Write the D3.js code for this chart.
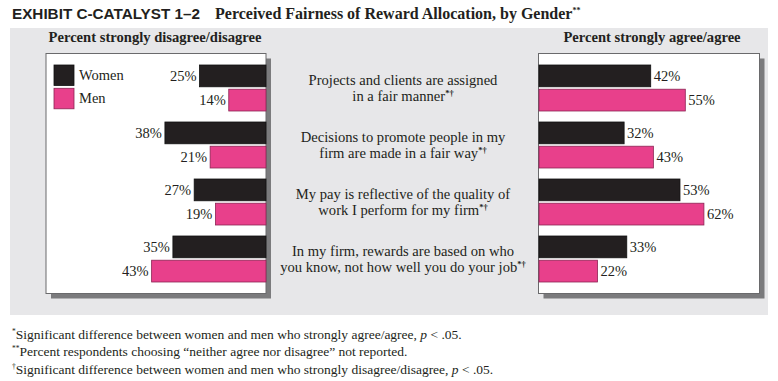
<!DOCTYPE html>
<html>
<head>
<meta charset="utf-8">
<script src="https://cdn.jsdelivr.net/npm/d3@7"></script>
<style>
  body { margin: 0; background: #fff; }
  svg { display: block; }
  .serif { font-family: "Liberation Serif", "Times New Roman", serif; fill: #231f20; }
</style>
</head>
<body>
<div id="chart"></div>
<script>
// data
var categories = ["Projects", "Promote", "Pay", "Rewards"];
var statementLines = [
  ["Projects and clients are assigned", "in a fair manner"],
  ["Decisions to promote people in my", "firm are made in a fair way"],
  ["My pay is reflective of the quality of", "work I perform for my firm"],
  ["In my firm, rewards are based on who", "you know, not how well you do your job"]
];
var genders = ["Women", "Men"];
var disagreeWomen = [25, 38, 27, 35];
var disagreeMen = [14, 21, 19, 43];
var agreeWomen = [42, 32, 53, 33];
var agreeMen = [55, 43, 62, 22];
var footnotes = [
  ["*", "Significant difference between women and men who strongly agree/agree, ", "p", " < .05."],
  ["**", "Percent respondents choosing \u201cneither agree nor disagree\u201d not reported.", "", ""],
  ["\u2020", "Significant difference between women and men who strongly disagree/disagree, ", "p", " < .05."]
];

var colors = { Women: "#231f20", Men: "#e8408b" };
var strokes = { Women: "#111", Men: "#8c2454" };

var width = 778, height = 381;
var svg = d3.select("#chart").append("svg").attr("width", width).attr("height", height);

// gray panel
svg.append("rect").attr("x", 10).attr("y", 28).attr("width", 758).attr("height", 287).attr("fill", "#e7e7e9");

// title
var title = svg.append("text").attr("x", 12).attr("y", 19);
title.append("tspan")
  .style("font-family", "'Liberation Sans', Arial, sans-serif")
  .style("font-weight", "bold").style("font-size", "14.5px").attr("fill", "#231f20")
  .attr("textLength", 188).attr("lengthAdjust", "spacingAndGlyphs")
  .text("EXHIBIT C-CATALYST 1\u20132");
title.append("tspan").attr("x", 215)
  .style("font-family", "'Liberation Serif', 'Times New Roman', serif")
  .style("font-weight", "bold").style("font-size", "16px").attr("fill", "#231f20")
  .text("Perceived Fairness of Reward Allocation, by Gender");
title.append("tspan").attr("dy", -6)
  .style("font-family", "'Liberation Serif', serif").style("font-weight", "bold")
  .style("font-size", "8px").attr("fill", "#231f20").text("**");

// scales
var y = d3.scaleBand().domain(categories).range([59.3, 287.7]).paddingInner(0.193).paddingOuter(0.1);
var yg = d3.scaleBand().domain(genders).range([0, y.bandwidth()]).paddingInner(0.1);
var xLen = d3.scaleLinear().domain([0, 100]).range([0, 266]);

var leftEdge = 266, rightEdge = 539;

function drawBox(x0, x1) {
  svg.append("rect").attr("x", x0 + 5).attr("y", 58.5).attr("width", x1 - x0).attr("height", 240)
    .attr("fill", "#7b7b7d");
  svg.append("rect").attr("x", x0).attr("y", 53.5).attr("width", x1 - x0).attr("height", 240)
    .attr("fill", "#fff").attr("stroke", "#6a6a6c").attr("stroke-width", 1);
}
drawBox(46, 266);
drawBox(538.5, 759.5);

// panel headings
svg.append("text").attr("class", "serif").attr("x", 155).attr("y", 42)
  .attr("text-anchor", "middle").style("font-weight", "bold").style("font-size", "14.6px")
  .text("Percent strongly disagree/disagree");
svg.append("text").attr("class", "serif").attr("x", 652).attr("y", 42)
  .attr("text-anchor", "middle").style("font-weight", "bold").style("font-size", "14.6px")
  .text("Percent strongly agree/agree");

// rows
var rows = categories.map(function (c, i) {
  return {
    cat: c,
    lines: statementLines[i],
    left: [{ g: "Women", v: disagreeWomen[i] }, { g: "Men", v: disagreeMen[i] }],
    right: [{ g: "Women", v: agreeWomen[i] }, { g: "Men", v: agreeMen[i] }]
  };
});

var row = svg.selectAll("g.row").data(rows).join("g").attr("class", "row")
  .attr("transform", function (d) { return "translate(0," + y(d.cat) + ")"; });

// left (disagree) bars grow leftwards
row.selectAll("rect.l").data(function (d) { return d.left; }).join("rect").attr("class", "l")
  .attr("x", function (d) { return leftEdge - xLen(d.v); })
  .attr("y", function (d) { return yg(d.g); })
  .attr("width", function (d) { return xLen(d.v); })
  .attr("height", yg.bandwidth())
  .attr("fill", function (d) { return colors[d.g]; })
  .attr("stroke", function (d) { return strokes[d.g]; }).attr("stroke-width", 0.8);

row.selectAll("text.l").data(function (d) { return d.left; }).join("text").attr("class", "l serif")
  .attr("x", function (d) { return leftEdge - xLen(d.v) - 3; })
  .attr("y", function (d) { return yg(d.g) + yg.bandwidth() / 2 + 5; })
  .attr("text-anchor", "end").style("font-size", "14.5px").attr("fill", "#333")
  .text(function (d) { return d.v + "%"; });

// right (agree) bars
row.selectAll("rect.r").data(function (d) { return d.right; }).join("rect").attr("class", "r")
  .attr("x", rightEdge)
  .attr("y", function (d) { return yg(d.g); })
  .attr("width", function (d) { return xLen(d.v); })
  .attr("height", yg.bandwidth())
  .attr("fill", function (d) { return colors[d.g]; })
  .attr("stroke", function (d) { return strokes[d.g]; }).attr("stroke-width", 0.8);

row.selectAll("text.r").data(function (d) { return d.right; }).join("text").attr("class", "r serif")
  .attr("x", function (d) { return rightEdge + xLen(d.v) + 3; })
  .attr("y", function (d) { return yg(d.g) + yg.bandwidth() / 2 + 5; })
  .style("font-size", "14.5px").attr("fill", "#333")
  .text(function (d) { return d.v + "%"; });

// statements in the middle
row.each(function (d) {
  var g = d3.select(this);
  var mid = y.bandwidth() / 2;
  d.lines.forEach(function (line, j) {
    var t = g.append("text").attr("class", "serif").attr("x", 403)
      .attr("y", mid - 3 + j * 16.5).attr("text-anchor", "middle")
      .style("font-size", "14.6px").attr("fill", "#231f20");
    t.append("tspan").text(line);
    if (j === d.lines.length - 1) {
      t.append("tspan").attr("dy", -5).style("font-size", "8.5px").style("font-weight", "bold").text("*\u2020");
    }
  });
});

// legend
var legend = svg.append("g").attr("transform", "translate(54,65)");
genders.forEach(function (gname, i) {
  legend.append("rect").attr("x", 0).attr("y", i * 23.3).attr("width", 20).attr("height", 20.5)
    .attr("fill", colors[gname]).attr("stroke", strokes[gname]).attr("stroke-width", 0.8);
  legend.append("text").attr("class", "serif").attr("x", 25).attr("y", i * 23.3 + 15)
    .style("font-size", "14.5px").attr("fill", "#333").text(gname);
});

// footnotes
footnotes.forEach(function (f, i) {
  var t = svg.append("text").attr("class", "serif").attr("x", 12).attr("y", 339 + i * 17.3)
    .style("font-size", "13.5px").attr("fill", "#333");
  t.append("tspan").attr("dy", -5).style("font-size", "7.5px").text(f[0]);
  t.append("tspan").attr("dy", 5).text(f[1]);
  if (f[2]) {
    t.append("tspan").style("font-style", "italic").text(f[2]);
    t.append("tspan").text(f[3]);
  }
});
</script>
</body>
</html>
